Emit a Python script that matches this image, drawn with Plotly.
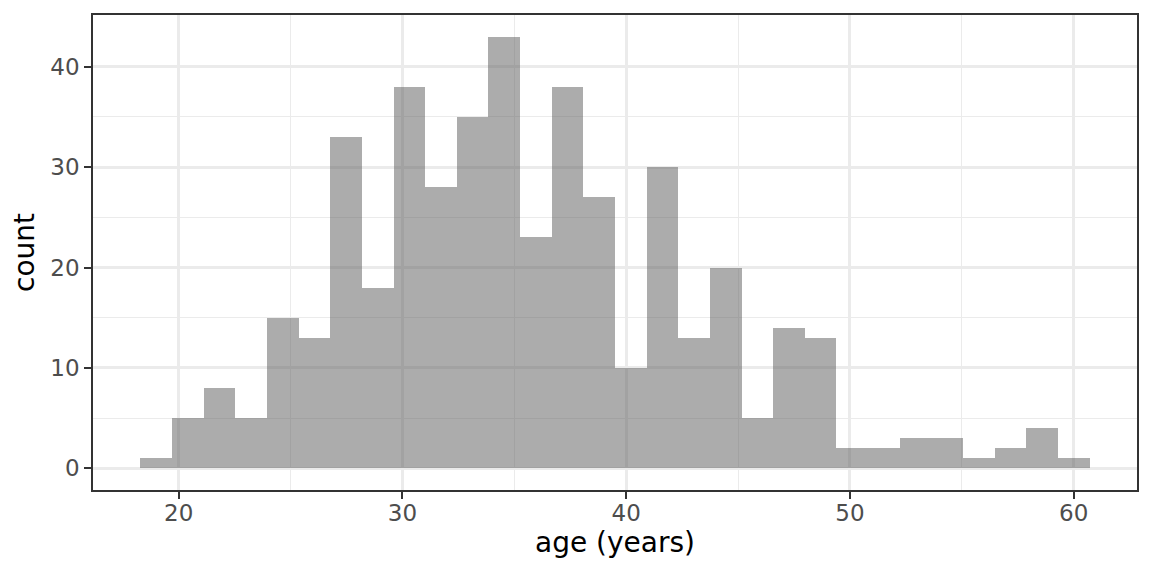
import plotly.graph_objects as go

# Histogram data (30 bins)
counts = [1, 5, 8, 5, 15, 13, 33, 18, 38, 28, 35, 43, 23, 38, 27,
          10, 30, 13, 20, 5, 14, 13, 2, 2, 3, 3, 1, 2, 4, 1]
bin_start = 18.293
bin_width = 1.4138
x_ticks = [20, 30, 40, 50, 60]
y_ticks = [0, 10, 20, 30, 40]

centers = [bin_start + bin_width * (i + 0.5) for i in range(len(counts))]
x_lo = bin_start
x_hi = bin_start + bin_width * len(counts)
xpad = (x_hi - x_lo) * 0.05
ypad = max(counts) * 0.05

fig = go.Figure()
fig.add_trace(go.Bar(
    x=centers, y=counts, width=[bin_width] * len(counts),
    marker=dict(color="rgba(89,89,89,0.5)", line=dict(width=0)),
    hoverinfo="x+y",
))

axis_common = dict(
    showline=True, linecolor="#333333", linewidth=1.5, mirror=True,
    ticks="outside", ticklen=7, tickwidth=1.5, tickcolor="#333333",
    tickfont=dict(family="DejaVu Sans", size=23, color="#4D4D4D"),
    showgrid=True, gridcolor="#EBEBEB", gridwidth=2.6,
    zeroline=False,
)

fig.update_layout(
    width=1144, height=568,
    margin=dict(l=85, r=15, t=7, b=86, autoexpand=False),
    paper_bgcolor="white", plot_bgcolor="white",
    bargap=0, showlegend=False,
    font=dict(family="DejaVu Sans"),
    xaxis=dict(
        range=[x_lo - xpad, x_hi + xpad],
        tickvals=x_ticks, ticktext=[str(v) for v in x_ticks],
        ticklabelstandoff=-5,
        minor=dict(showgrid=True, gridcolor="#EBEBEB", gridwidth=1.3,
                   tickvals=[25, 35, 45, 55]),
        title=dict(text="age (years)", font=dict(family="DejaVu Sans", size=28, color="black"), standoff=6),
        **axis_common,
    ),
    yaxis=dict(
        range=[-ypad, max(counts) + ypad],
        tickvals=y_ticks, ticktext=[str(v) for v in y_ticks],
        minor=dict(showgrid=True, gridcolor="#EBEBEB", gridwidth=1.3,
                   tickvals=[5, 15, 25, 35]),
        title=dict(text="count", font=dict(family="DejaVu Sans", size=28, color="black"), standoff=10),
        **axis_common,
    ),
)

fig.write_html("out.html")
